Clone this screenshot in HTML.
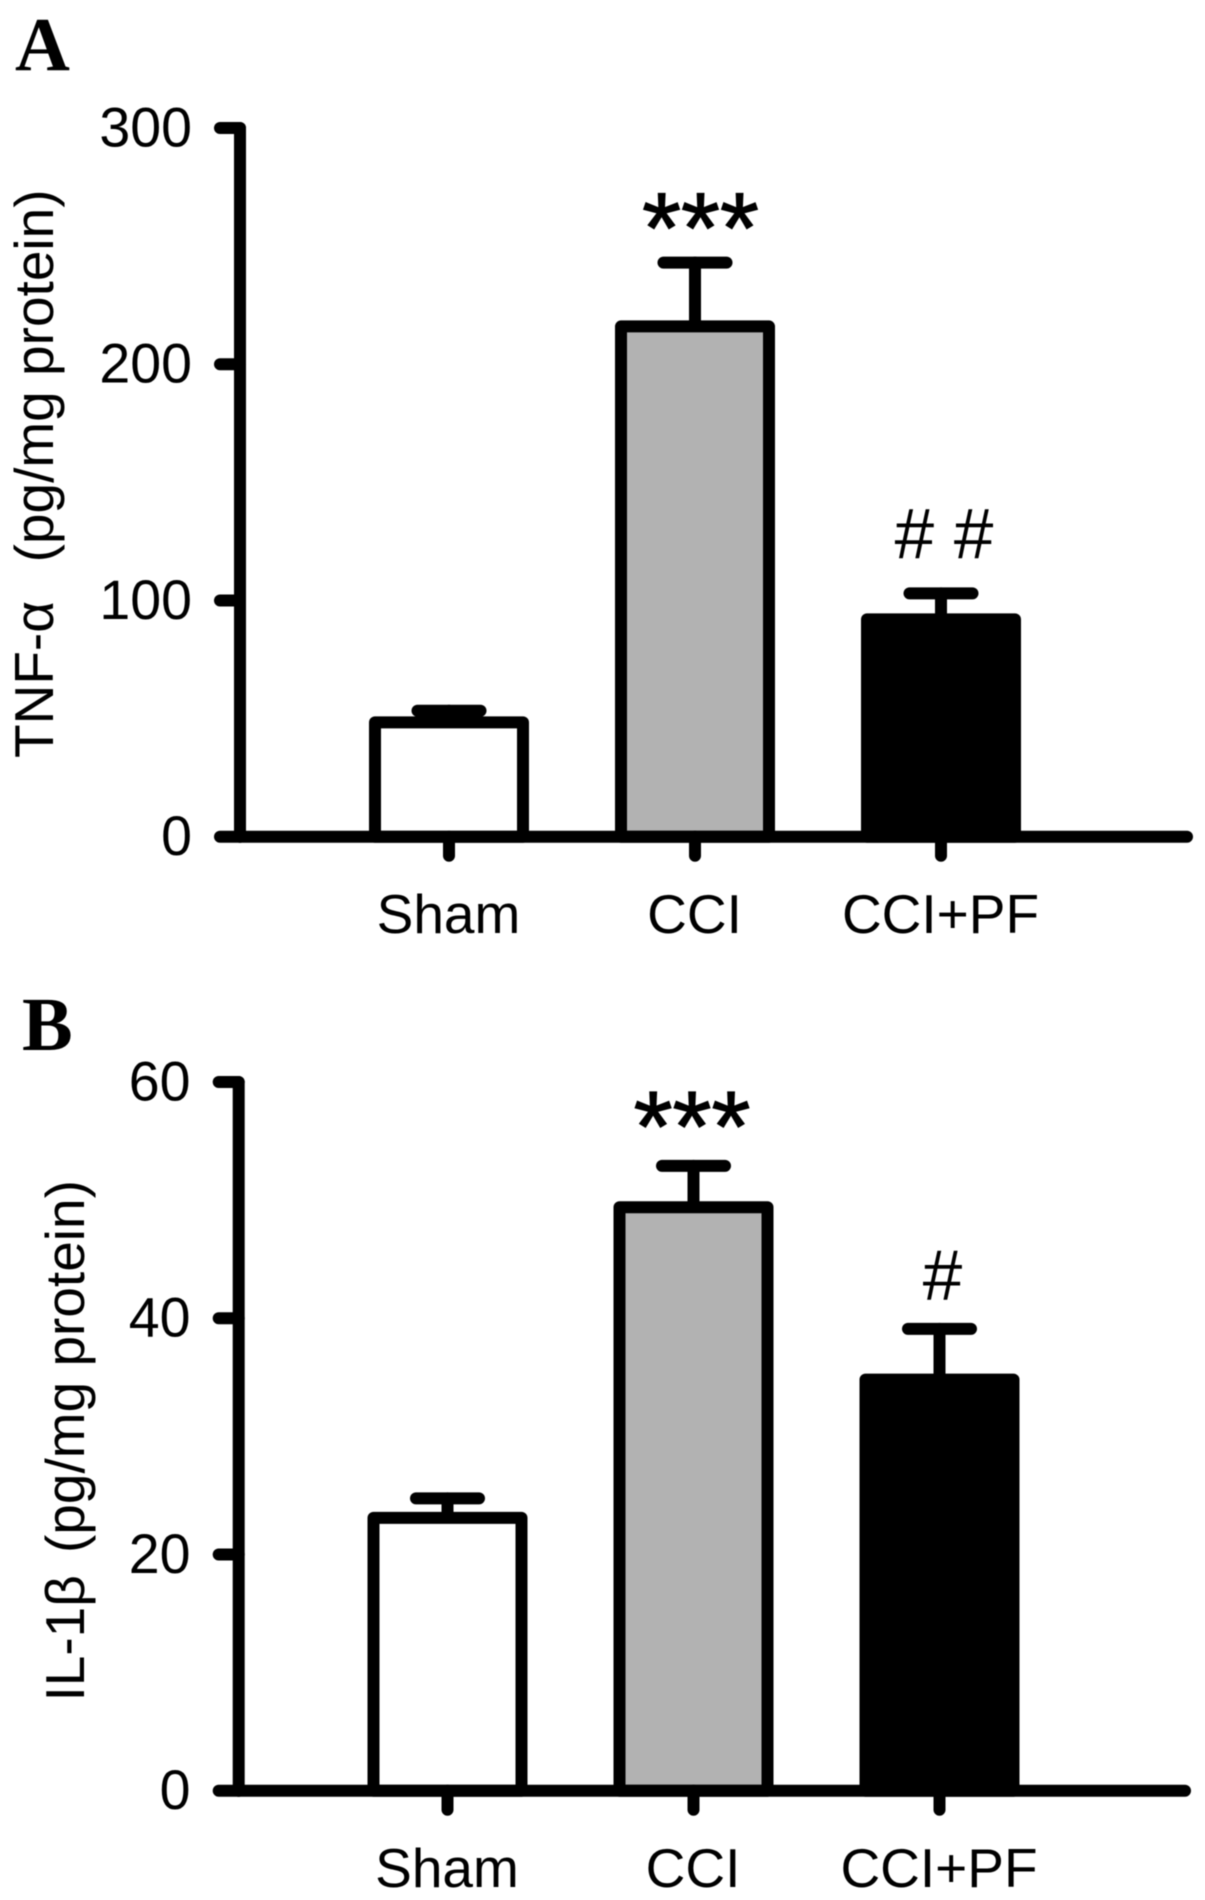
<!DOCTYPE html>
<html lang="en">
<head>
<meta charset="utf-8">
<title>TNF-α and IL-1β levels</title>
<style>
  html, body { margin: 0; padding: 0; background: #fff; }
  svg { display: block; filter: blur(0.5px); }
  text { font-family: "Liberation Sans", sans-serif; fill: #000; }
  .panel-letter { font-family: "Liberation Serif", serif; font-weight: bold; font-size: 76px; }
  .axis-title { font-size: 55px; white-space: pre; }
</style>
</head>
<body>
<svg id="figure" width="1205" height="1900" viewBox="0 0 1205 1900" xmlns="http://www.w3.org/2000/svg">
  <rect x="0" y="0" width="1205" height="1900" fill="#ffffff"/>
  <text class="panel-letter" x="15" y="70">A</text>
  <text class="panel-letter" x="22" y="1050">B</text>
  <text class="axis-title" transform="translate(53 758) rotate(-90)" xml:space="preserve">TNF-α  <tspan dx="8">(pg/mg protein)</tspan></text>
  <text class="axis-title" transform="translate(84 1701.5) rotate(-90)" xml:space="preserve">IL-1β  <tspan dx="-8.5">(pg/mg protein)</tspan></text>
  <g id="panel-a"></g>
  <g id="panel-b"></g>
</svg>
<script>
const categories = ["Sham", "CCI", "CCI+PF"];
const barFills = ["#ffffff", "#b2b2b2", "#000000"];

const tnfTicks = [0, 100, 200, 300];
const tnfMeans = [48.4, 216, 92];
const tnfErrorTops = [53.3, 243, 103];
const tnfMarkers = ["", "***", "# #"];

const il1bTicks = [0, 20, 40, 60];
const il1bMeans = [23.1, 49.4, 34.8];
const il1bErrorTops = [24.75, 52.9, 39.1];
const il1bMarkers = ["", "***", "#"];

const SVG_NS = "http://www.w3.org/2000/svg";
const STROKE = 12;

function makeEl(tag, parent, attrs) {
  const el = document.createElementNS(SVG_NS, tag);
  for (const key in attrs) el.setAttribute(key, attrs[key]);
  parent.appendChild(el);
  return el;
}

function drawLine(parent, x1, y1, x2, y2) {
  return makeEl("line", parent, {
    x1: x1, y1: y1, x2: x2, y2: y2,
    stroke: "#000", "stroke-width": STROKE, "stroke-linecap": "round"
  });
}

function drawPanel(group, cfg, ticks, means, errorTops, markers, key) {
  const maxTick = ticks[ticks.length - 1];
  const yScale = v => cfg.baseY - (v / maxTick) * (cfg.baseY - cfg.topY);
  const xScale = i => cfg.firstX + i * cfg.stepX;

  ticks.forEach(t => {
    const tick = drawLine(group, cfg.axisX - 20, yScale(t), cfg.axisX, yScale(t));
    
    
    const label = makeEl("text", group, {
      x: cfg.labelX, y: yScale(t) + 18.5, "text-anchor": "end", "font-size": 55.5
    });
    label.textContent = String(t);
    
    
  });

  categories.forEach((name, i) => {
    const cx = xScale(i);
    const stem = drawLine(group, cx, yScale(means[i]), cx, yScale(errorTops[i]));
    
    
    const cap = drawLine(group, cx - 31.5, yScale(errorTops[i]), cx + 31.5, yScale(errorTops[i]));
    
    

    const bar = makeEl("rect", group, {
      x: cx - 74, y: yScale(means[i]), width: 148, height: cfg.baseY - yScale(means[i]),
      fill: barFills[i], stroke: "#000", "stroke-width": STROKE, "stroke-linejoin": "round"
    });
    
    

    const xTick = drawLine(group, cx, cfg.baseY, cx, cfg.baseY + 19);
    
    

    const catLabel = makeEl("text", group, {
      x: cx - 0.5, y: cfg.catY, "text-anchor": "middle", "font-size": 55
    });
    catLabel.textContent = name;
    
    

    if (markers[i]) {
      const stars = markers[i].indexOf("*") >= 0;
      const marker = makeEl("text", group, {
        x: cx + (stars ? cfg.starDx : 3),
        y: yScale(errorTops[i]) + (stars ? cfg.starDy : cfg.hashDy),
        "text-anchor": "middle", "font-size": stars ? 100 : 71,
        stroke: stars ? "#000" : "none", "stroke-width": stars ? 1.2 : 0
      });
      marker.textContent = markers[i];
      
      
    }
  });

  const yAxis = drawLine(group, cfg.axisX, cfg.topY, cfg.axisX, cfg.baseY);
  
  
  const xAxis = drawLine(group, cfg.axisX, cfg.baseY, cfg.endX, cfg.baseY);
  
  
}

drawPanel(document.getElementById("panel-a"),
  { axisX: 240, topY: 128, baseY: 836.7, firstX: 449, stepX: 246, endX: 1187, labelX: 192, catY: 933, starDx: 5.5, starDy: 0, hashDy: -35 },
  tnfTicks, tnfMeans, tnfErrorTops, tnfMarkers, "tnf");

drawPanel(document.getElementById("panel-b"),
  { axisX: 238.7, topY: 1082, baseY: 1790.7, firstX: 447.5, stepX: 246, endX: 1185, labelX: 190.5, catY: 1887, starDx: -1.5, starDy: -5, hashDy: -29 },
  il1bTicks, il1bMeans, il1bErrorTops, il1bMarkers, "il1b");
</script>
</body>
</html>
